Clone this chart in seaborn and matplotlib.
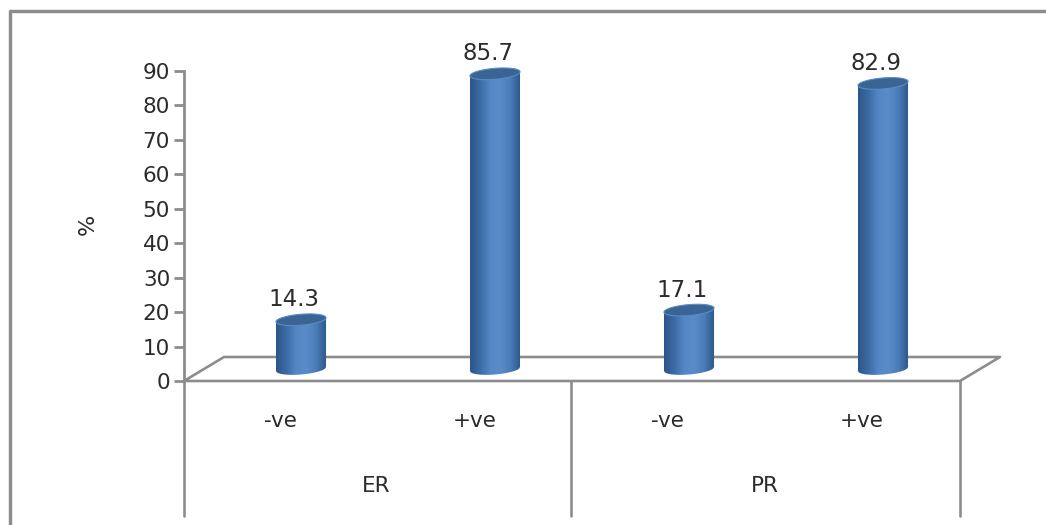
import numpy as np
import pandas as pd
import matplotlib
matplotlib.use("Agg")
import matplotlib.pyplot as plt
from matplotlib.patches import Polygon
from matplotlib.colors import LinearSegmentedColormap
import seaborn as sns

groups = ["ER", "ER", "PR", "PR"]
statuses = ["-ve", "+ve", "-ve", "+ve"]
values = [14.3, 85.7, 17.1, 82.9]
value_labels = ["14.3", "85.7", "17.1", "82.9"]
y_ticks = [0, 10, 20, 30, 40, 50, 60, 70, 80, 90]
y_title = "%"

W, H = 1046, 525
sns.set_theme(style="white")
plt.rcParams["font.family"] = ["DejaVu Sans"]
fig = plt.figure(figsize=(W / 100, H / 100), dpi=100)
GREY = "#8c8c8c"
TEXT = "#2b2b2b"

# plot area in pixels: x 184..960, y=0 at 381, y=90 at 71
ax = fig.add_axes([184 / W, 1 - 381 / H, (960 - 184) / W, (381 - 71) / H])
df = pd.DataFrame({"label": [f"{g} {s}" for g, s in zip(groups, statuses)], "value": values})
sns.barplot(data=df, x="label", y="value", ax=ax, width=0.258, color="#4f81bd",
            saturation=1, edgecolor="none")
ax.set_xlabel("")
ax.set_ylabel("")
ax.set_xticks([])
ax.set_yticks(y_ticks)
ax.tick_params(axis="y", length=7, width=2, color=GREY, labelsize=15.5, labelcolor=TEXT, pad=3,
               left=True, direction="out")
for s in ["top", "right", "bottom"]:
    ax.spines[s].set_visible(False)
ax.spines["left"].set_color(GREY)
ax.spines["left"].set_linewidth(2)
ax.patch.set_alpha(0)


def line(xs, ys, lw=2, z=1):
    fig.add_artist(plt.Line2D([x / W for x in xs], [1 - y / H for y in ys], color=GREY, lw=lw * 0.72, zorder=z))


# outer frame (top and left only visible)
line([10, 10, 1046], [525, 11, 11], lw=3.4)

# floor of the 3D chart
line([184, 224, 1000, 960, 184], [381, 357, 357, 381, 381], lw=2.6)
# category axis dividers
line([184, 184], [381, 516], lw=2.6)
line([571, 571], [381, 516], lw=2.6)
line([960, 960], [381, 516], lw=2.6)

ax.set_zorder(3)
cmap = LinearSegmentedColormap.from_list(
    "cyl", ["#2d5688", "#3c6ca6", "#5587c6", "#5a8bc9", "#4a7cb8", "#2c5788"])
grad = np.linspace(0, 1, 64).reshape(1, -1)
y_per_px = 90 / 310
x_per_px = 4 / 776
depth = 12 * y_per_px      # bars stand 12 px back on the floor
shift = 20 * x_per_px      # and 20 px to the right
ry = 5.5 * y_per_px
tilt = 2 * y_per_px
bars = list(ax.patches)
t = np.linspace(0, 2 * np.pi, 120)
for bar, val, lab in zip(bars, values, value_labels):
    x0, w = bar.get_x() + shift, bar.get_width()
    cx = x0 + w / 2
    top = val + depth
    bottom = depth
    bar.set_visible(False)
    xs = np.linspace(x0, x0 + w, 60)
    rel = (xs - cx) / (w / 2)
    low = bottom - ry * np.sqrt(np.clip(1 - rel ** 2, 0, 1)) + tilt * rel
    up = top + tilt * rel
    body = Polygon(np.r_[np.c_[xs, low], np.c_[xs[::-1], up[::-1]]], closed=True,
                   transform=ax.transData, facecolor="none", edgecolor="none")
    ax.add_patch(body)
    im = ax.imshow(grad, cmap=cmap, extent=[x0, x0 + w, 0, top + 3], aspect="auto", zorder=3)
    im.set_clip_path(body)
    # tilted elliptical cap
    ex = cx + w / 2 * np.cos(t)
    ey = top + ry * np.sin(t) + tilt * np.cos(t)
    ax.add_patch(Polygon(np.c_[ex, ey], closed=True, facecolor="#396493", edgecolor="#5a8bc9",
                         lw=0.8, zorder=4, clip_on=False))
    ax.text(cx - 7 * x_per_px, top + 20 * y_per_px, lab, ha="center", va="center", fontsize=16.5,
            color=TEXT, zorder=5, clip_on=False)
ax.set_xlim(-0.5, 3.5)
ax.set_ylim(0, 90)

# category labels
tier1 = [280, 475, 667, 862]
for tx, s in zip(tier1, statuses):
    fig.text(tx / W, 1 - 421 / H, s, ha="center", va="center", fontsize=15.5, color=TEXT)
group_names = list(dict.fromkeys(groups))
for tx, s in zip([376, 765], group_names):
    fig.text(tx / W, 1 - 486 / H, s, ha="center", va="center", fontsize=15.5, color=TEXT)
fig.text(88 / W, 1 - 224 / H, y_title, rotation=90, ha="center", va="center", fontsize=16, color=TEXT)

fig.savefig("out.png", dpi=100, facecolor="white")
